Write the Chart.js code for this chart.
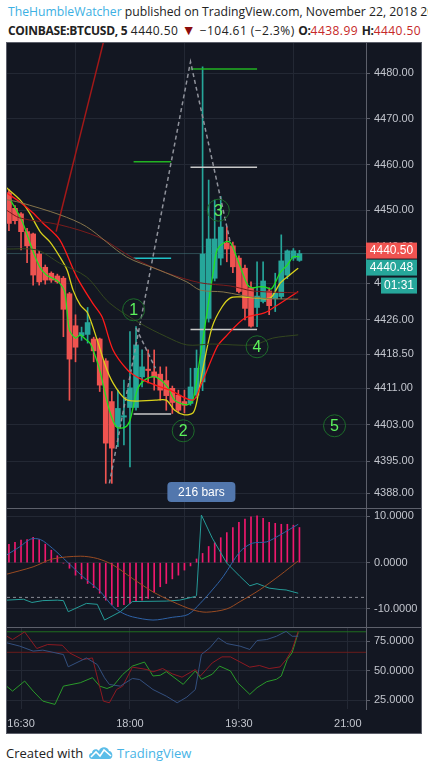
<!DOCTYPE html>
<html>
<head>
<meta charset="utf-8">
<script src="https://cdn.jsdelivr.net/npm/chart.js@4.4.0/dist/chart.umd.min.js"></script>
<style>
  body { margin: 0; width: 428px; height: 771px; background: #fff; position: relative; overflow: hidden; font-family: "Open Sans", sans-serif; }
  .hdr { position: absolute; left: 8px; white-space: nowrap; color: #222; }
  #h1 { top: 3px; font-size: 12.2px; }
  #h2 { top: 22px; font-size: 12px; letter-spacing: 0.45px; }
  #h2 b { letter-spacing: -0.3px; }
  .user { color: #3cb0e3; }
  .red { color: #c62828; }
  .tri { color: #8b0c0c; font-size: 14px; line-height: 12px; }
  #frame { position: absolute; left: 6px; top: 42px; width: 414px; height: 690px; background: #131722; border: 1px solid #5d606b; }
  .pane { position: absolute; left: 7px; width: 414px; }
  .sep { position: absolute; left: 7px; width: 414px; height: 1px; background: #5d606b; }
  #foot { position: absolute; left: 6px; top: 744px; font-size: 13px; color: #222; white-space: nowrap; }
  #foot svg { position: absolute; left: 82px; top: 1px; }
  #foot .tv { position: absolute; left: 111px; top: 0; color: #47b4e6; }
</style>
</head>
<body>
<div class="hdr" id="h1"><span class="user">TheHumbleWatcher</span> published on TradingView.com, November 22, 2018 20:23 UTC</div>
<div class="hdr" id="h2"><b>COINBASE:BTCUSD, 5</b> 4440.50 <span class="tri">&#9660;</span> &minus;104.61 (&minus;2.3%) <b>O:</b><span class="red">4438.99</span> <b>H:</b><span class="red">4440.50</span></div>
<div id="frame"></div>
<div class="pane" style="top:43px;height:465px"><canvas id="main"></canvas></div>
<div class="sep" style="top:508px"></div>
<div class="pane" style="top:509px;height:118px"><canvas id="macd"></canvas></div>
<div class="sep" style="top:627px"></div>
<div class="pane" style="top:628px;height:105px"><canvas id="rsi"></canvas></div>
<div id="foot">Created with
  <svg width="26" height="15" viewBox="0 0 26 15"><path d="M4 14 C0 14 0 8 4 8 C4 4 9 3 11 6 C12 1 20 1 21 6 C25 6 26 14 21 14 Z" fill="#5bbde8"/><polyline points="3,12 8,7 12,11 16,5 23,11" fill="none" stroke="#fff" stroke-width="1.6"/></svg>
  <span class="tv">TradingView</span></div>

<script>
// candles, 5 minute bars
const barTimes = ['16:20','16:25','16:30','16:35','16:40','16:45','16:50','16:55','17:00','17:05',
  '17:10','17:15','17:20','17:25','17:30','17:35','17:40','17:45','17:50','17:55',
  '18:00','18:05','18:10','18:15','18:20','18:25','18:30','18:35','18:40','18:45',
  '18:50','18:55','19:00','19:05','19:10','19:15','19:20','19:25','19:30','19:35',
  '19:40','19:45','19:50','19:55','20:00','20:05','20:10','20:15','20:20'];
const openVals = [4453.8,4450.4,4449.2,4445.3,4444.8,4440.4,4437.5,4436.2,4435.6,4435.1,
  4431.7,4424.7,4422.5,4422.8,4421.8,4421.8,4417.0,4408.1,4402.6,4404.7,
  4406.8,4406.8,4413.5,4415.2,4414.6,4414.1,4412.7,4411.0,4409.5,4408.1,
  4407.7,4409.5,4412.4,4426.3,4435.1,4439.5,4442.8,4442.2,4439.5,4437.3,
  4433.0,4428.7,4430.0,4432.3,4430.6,4431.1,4435.8,4439.5,4439.0];
const highVals = [4454.5,4451.0,4449.5,4446.0,4445.0,4441.0,4438.0,4436.5,4436.0,4435.5,
  4432.0,4427.1,4424.4,4428.7,4422.2,4422.0,4417.5,4410.3,4410.6,4412.8,
  4423.4,4424.5,4419.4,4419.4,4419.4,4415.7,4415.7,4411.5,4410.6,4410.6,
  4415.4,4419.4,4481.4,4456.6,4452.2,4453.0,4446.3,4443.0,4440.0,4438.0,
  4434.3,4438.7,4438.7,4433.0,4436.2,4444.6,4441.3,4441.6,4441.2];
const lowVals = [4445.5,4447.0,4441.3,4438.5,4433.6,4433.6,4433.8,4434.2,4434.0,4422.3,
  4408.4,4416.8,4421.5,4420.9,4416.8,4410.3,4390.2,4390.2,4398.2,4398.6,
  4393.8,4406.2,4411.3,4412.2,4410.6,4408.4,4406.2,4405.5,4405.6,4405.6,
  4407.3,4408.9,4410.5,4425.5,4434.5,4438.0,4438.7,4436.3,4431.9,4426.0,
  4424.4,4424.5,4429.7,4427.1,4427.8,4430.6,4435.0,4439.0,4438.8];
const closeVals = [4447.1,4447.7,4445.3,4442.2,4435.8,4434.3,4434.7,4434.7,4434.3,4428.3,
  4417.4,4420.0,4423.2,4425.4,4419.2,4411.7,4399.0,4397.9,4406.6,4405.0,
  4411.1,4420.5,4415.7,4414.9,4413.5,4410.6,4409.4,4407.9,4406.2,4407.3,
  4411.3,4415.4,4440.4,4443.7,4443.7,4446.3,4441.5,4437.6,4432.2,4428.5,
  4424.6,4431.2,4434.5,4429.1,4431.8,4438.9,4441.1,4441.1,4440.5];

// moving averages [time, price]
const maGreen = [['16:21',4452.3],['16:26',4450.1],['16:31',4447.5],['16:36',4443.9],['16:41',4440.2],
  ['16:46',4437.3],['16:51',4435.8],['16:56',4435.1],['17:01',4434.3],['17:06',4432.1],['17:10',4423.8],
  ['17:15',4422.0],['17:19',4422.7],['17:23',4421.8],['17:27',4420.9],['17:31',4418.3],['17:35',4415.0],
  ['17:43',4406.2],['17:49',4402.5],['17:56',4402.5],['18:00',4404.0],['18:06',4410.6],['18:12',4412.8],
  ['18:21',4413.5],['18:31',4411.3],['18:37',4408.4],['18:47',4407.4],['18:52',4408.4],['18:58',4417.9],
  ['19:04',4428.2],['19:09',4436.9],['19:12',4441.3],['19:19',4443.1],['19:23',4442.9],['19:28',4439.8],
  ['19:37',4433.7],['19:41',4433.0],['19:46',4433.2],['19:51',4433.2],['19:57',4432.8],['20:04',4436.3],
  ['20:10',4438.0],['20:15',4439.8],['20:20',4439.8]];
const maYellow = [['16:18',4454.9],['16:29',4452.3],['16:37',4449.4],['16:46',4445.2],['16:54',4443.0],
  ['17:02',4439.8],['17:08',4436.9],['17:13',4432.5],['17:19',4429.2],['17:25',4427.5],['17:33',4421.5],
  ['17:41',4415.0],['17:48',4411.3],['17:58',4408.4],['18:21',4408.4],['18:30',4408.4],['18:37',4406.2],
  ['18:45',4405.2],['18:52',4405.6],['18:55',4407.8],['19:00',4415.0],['19:08',4424.5],['19:16',4428.8],
  ['19:23',4430.8],['19:31',4431.0],['19:43',4430.8],['19:56',4430.8],['20:04',4434.0],['20:12',4435.8],
  ['20:19',4437.3]];
const maRed = [['16:18',4453.8],['16:29',4451.8],['16:40',4449.4],['16:48',4447.2],['17:02',4443.5],
  ['17:16',4435.4],['17:29',4429.7],['17:37',4426.6],['17:46',4419.4],['17:58',4415.0],['18:07',4413.3],
  ['18:21',4411.7],['18:33',4410.6],['18:52',4408.4],['18:58',4411.3],['19:12',4420.1],['19:19',4422.3],
  ['19:35',4426.4],['19:51',4427.5],['20:00',4428.9],['20:19',4432.2]];
const maDarkRed = [['16:18',4450.0],['16:29',4448.3],['17:02',4446.8],['17:35',4444.0],['18:02',4439.6],
  ['18:30',4436.3],['18:58',4434.1],['19:23',4433.4],['19:42',4432.3],['20:19',4431.9]];
const maTan = [['16:18',4452.3],['16:29',4451.7],['17:02',4449.0],['17:24',4446.4],['17:57',4439.8],
  ['18:24',4436.9],['18:47',4434.3],['18:58',4432.5],['19:17',4432.1],['19:45',4430.8],['20:19',4430.5]];
const maOlive = [['16:18',4441.5],['16:43',4441.3],['17:02',4438.4],['17:24',4435.4],['17:43',4429.7],
  ['18:08',4425.3],['18:30',4422.3],['18:47',4420.5],['19:08',4420.7],['19:42',4420.5],['19:58',4422.0],
  ['20:19',4422.7]];

// drawings on the price pane
const trendLine = [['16:59',4445.3],['17:43',4492.0]];
const waveDashed = [['17:43',4390.2],['18:50',4482.5],['19:23',4442.8]];
const waveDashed2 = [['18:05',4424.2],['18:21',4415.4]];
const leftTargets = [4460.6, 4439.5, 4405.4];
const rightTargets = [4480.9, 4459.4, 4423.9];
const targetColors = ['#22b322', '#1fc3c8', '#c8c8c8'];
const rightColors = ['#22b322', '#c8c8c8', '#c8c8c8'];
const waveLabels = ['1','2','3','4','5'];
const waveTimes = ['18:03','18:44','19:13','19:45','20:49'];
const wavePrices = [4428.2, 4401.7, 4450.0, 4420.1, 4402.8];
const lastPrice = 4440.5;

// MACD pane
const macdHist = [3.96,4.4,4.9,5.0,5.5,5.0,4.0,2.7,1.5,-0.1,
  -1.2,-2.7,-3.5,-4.5,-5.4,-6.6,-8.1,-9.1,-9.5,-9.1,
  -8.8,-8.4,-8.1,-7.7,-6.4,-5.2,-4.5,-3.5,-2.7,-1.6,
  -0.7,0.8,2.0,3.5,4.3,5.4,6.5,7.6,8.7,9.4,
  9.9,10.1,9.6,8.7,8.5,8.3,8.3,8.1,7.6];
const macdBlue = [['16:18',1.65],['16:29',3.45],['16:38',5.1],['16:46',5.0],['16:56',3.1],['17:08',0.2],
  ['17:21',-3.0],['17:35',-6.1],['17:46',-9.5],['17:54',-10.9],['18:02',-11.7],['18:19',-12.4],
  ['18:35',-11.8],['18:48',-11.2],['18:58',-8.8],['19:08',-5.9],['19:17',-3.0],['19:31',2.4],
  ['19:41',4.2],['19:53',4.5],['20:04',6.0],['20:19',8.3]];
const macdBrown = [['16:18',-2.5],['16:40',-0.9],['16:56',0.8],['17:19',1.4],['17:33',0.9],['17:46',-0.5],
  ['18:02',-3.4],['18:19',-6.3],['18:35',-8.4],['18:52',-10.2],['19:03',-10.7],['19:20',-10.0],
  ['19:31',-8.4],['19:47',-5.9],['20:04',-2.7],['20:19',0.4]];
const macdTeal = [['16:18',-8.1],['16:32',-7.9],['16:39',-8.6],['16:48',-8.2],['17:00',-8.1],['17:05',-8.2],
  ['17:09',-10.6],['17:24',-8.8],['17:33',-9.0],['17:39',-12.4],['17:52',-10.6],['18:02',-8.4],
  ['18:30',-8.3],['18:41',-8.1],['18:54',-7.3],['18:55',-7.1],['18:59',10.3],['19:08',5.3],
  ['19:20',-0.1],['19:31',-3.0],['19:39',-5.0],['19:45',-4.5],['19:55',-5.5],['20:04',-5.8],
  ['20:09',-5.9],['20:19',-6.6]];
const macdDashLevel = -7.5;

// oscillator pane
const oscRed = [['16:18',79.4],['16:23',76.4],['16:33',82.9],['16:43',68.8],['16:52',72.2],['17:04',71.6],
  ['17:10',65.1],['17:21',59.4],['17:29',60.8],['17:38',24.2],['17:43',22.8],['17:49',34.1],['17:54',36.9],
  ['18:02',53.0],['18:14',51.0],['18:19',49.0],['18:27',51.8],['18:35',47.3],['18:43',44.5],['18:54',51.0],
  ['18:58',45.3],['19:08',56.6],['19:16',61.7],['19:23',61.7],['19:39',53.0],['19:47',54.4],['19:55',51.8],
  ['20:04',53.2],['20:09',59.4],['20:14',67.9],['20:19',83.4]];
const oscBlue = [['16:18',73.7],['16:29',70.8],['16:40',66.6],['16:48',67.4],['17:05',63.7],['17:09',53.3],
  ['17:24',60.8],['17:33',55.2],['17:39',43.9],['17:43',38.3],['17:52',36.9],['18:02',43.4],['18:08',42.5],
  ['18:19',34.0],['18:30',28.4],['18:39',22.8],['18:47',27.6],['18:54',34.0],['18:59',63.7],['19:06',69.4],
  ['19:13',77.8],['19:20',73.0],['19:31',70.8],['19:39',68.0],['19:45',75.6],['19:53',76.4],['20:01',79.2],
  ['20:09',83.4],['20:14',79.2],['20:19',79.2]];
const oscGreen = [['16:18',36.9],['16:23',32.7],['16:33',41.2],['16:40',32.7],['16:48',24.2],['16:58',21.4],
  ['17:05',36.9],['17:19',39.8],['17:29',44.1],['17:35',36.9],['17:41',34.9],['17:46',36.9],['17:54',46.8],
  ['18:02',53.9],['18:12',57.3],['18:19',45.5],['18:25',46.1],['18:30',49.2],['18:44',38.4],['18:54',49.8],
  ['18:59',42.7],['19:08',47.0],['19:14',53.9],['19:23',49.8],['19:29',39.8],['19:39',29.9],['19:45',35.6],
  ['19:53',40.7],['20:01',42.7],['20:05',45.5],['20:10',59.6],['20:14',65.3],['20:19',82.3]];
const oscUpper = 83.0;
const oscLower = 65.6;

// axes
const priceTicks = [4388, 4395, 4403, 4411, 4418.5, 4426, 4434, 4442, 4450, 4460, 4470, 4480];
const macdTicks = [-10, 0, 10];
const oscTicks = [25, 50, 75];
const timeTicks = ['16:30', '18:00', '19:30', '21:00'];

const gridColor = '#232834';
const lineGrey = '#5d606b';
const textColor = '#c3c6ce';
const axisFont = '"Liberation Sans", Arial, sans-serif';
const xMin = 978.4, xMax = 1275;

function toMin(s) {
    const p = s.split(':');
    return Number(p[0]) * 60 + Number(p[1]);
}
function fmtTime(v) {
    const h = Math.floor(v / 60), m = Math.round(v % 60);
    return h + ':' + String(m).padStart(2, '0');
}
function pts(arr) {
    return arr.map(p => ({ x: toMin(p[0]), y: p[1] }));
}
function lineDs(arr, color, width, extra) {
    return Object.assign({
        type: 'line', data: pts(arr), borderColor: color, borderWidth: width || 1,
        pointRadius: 0, tension: 0.3, fill: false, order: 1
    }, extra || {});
}
function flatLine(level, t0, t1, color, extra) {
    return Object.assign({
        type: 'line', data: [{ x: t0, y: level }, { x: t1, y: level }], borderColor: color,
        borderWidth: 1, pointRadius: 0, tension: 0, order: 2
    }, extra || {});
}

function xScale(showLabels) {
    return {
        type: 'linear', min: xMin, max: xMax, offset: false,
        afterBuildTicks: s => { s.ticks = timeTicks.map(t => ({ value: toMin(t) })); },
        afterFit: s => { s.height = showLabels ? 24 : 0; s.paddingLeft = 0; s.paddingRight = 0; },
        grid: { color: gridColor, drawTicks: false },
        border: { display: false },
        ticks: { display: showLabels, color: textColor, font: { size: 11, family: axisFont }, padding: 8, maxRotation: 0, autoSkip: false, callback: v => fmtTime(v) }
    };
}
function yScale(min, max, ticks, decimals) {
    return {
        type: 'linear', position: 'right', min: min, max: max,
        afterBuildTicks: s => { s.ticks = ticks.map(v => ({ value: v })); },
        afterFit: s => { s.width = 55; s.paddingTop = 0; s.paddingBottom = 0; },
        grid: { color: gridColor, tickColor: lineGrey, tickLength: 4 },
        border: { color: lineGrey },
        ticks: { color: textColor, font: { size: 11, family: axisFont }, padding: 4, autoSkip: false, callback: v => v.toFixed(decimals) }
    };
}
const baseOptions = {
    responsive: true, maintainAspectRatio: false, animation: false,
    layout: { padding: 0 },
    plugins: { legend: { display: false }, tooltip: { enabled: false } }
};

// overlay drawings: wave circles, bar count label, price labels
const overlayPlugin = {
    id: 'overlay',
    afterDraw(chart) {
        const ctx = chart.ctx;
        const x = chart.scales.x, y = chart.scales.y;
        ctx.save();
        waveLabels.forEach((lab, i) => {
            const px = x.getPixelForValue(toMin(waveTimes[i]));
            const py = y.getPixelForValue(wavePrices[i]);
            ctx.beginPath();
            ctx.arc(px, py, 11, 0, Math.PI * 2);
            ctx.strokeStyle = '#1d6b2a';
            ctx.lineWidth = 1;
            ctx.stroke();
            ctx.fillStyle = '#5cf25c';
            ctx.font = '16px ' + axisFont;
            ctx.textAlign = 'center';
            ctx.textBaseline = 'middle';
            ctx.fillText(lab, px, py + 1);
        });

        // bar count label
        const bx = x.getPixelForValue(toMin('18:59'));
        const by = y.getPixelForValue(4388.3);
        ctx.fillStyle = '#5277ad';
        ctx.beginPath();
        ctx.roundRect(bx - 34, by - 10, 68, 20, 4);
        ctx.fill();
        ctx.fillStyle = '#ffffff';
        ctx.font = '12px ' + axisFont;
        ctx.fillText('216 bars', bx, by + 1);

        // price labels on the axis
        const ly = y.getPixelForValue(lastPrice) - 3;
        const left = y.left;
        ctx.font = '12px ' + axisFont;
        ctx.fillStyle = '#ef5350';
        ctx.fillRect(left, ly - 8, 51, 16);
        ctx.fillStyle = '#26a69a';
        ctx.fillRect(left, ly + 9, 51, 16);
        ctx.fillRect(left + 15, ly + 27, 36, 16);
        ctx.fillStyle = '#ffffff';
        ctx.fillText('4440.50', left + 25.5, ly + 0.5);
        ctx.fillText('4440.48', left + 25.5, ly + 17.5);
        ctx.fillText('01:31', left + 33, ly + 35.5);
        ctx.restore();
    }
};

const candleColors = closeVals.map((c, i) => c >= openVals[i] ? '#26a69a' : '#ef5350');

new Chart(document.getElementById('main'), {
    type: 'bar',
    data: {
        datasets: [
            { type: 'bar', data: barTimes.map((t, i) => ({ x: toMin(t), y: [lowVals[i], highVals[i]] })),
              backgroundColor: candleColors, barThickness: 1, grouped: false, order: 20 },
            { type: 'bar', data: barTimes.map((t, i) => ({ x: toMin(t), y: [openVals[i], closeVals[i]] })),
              backgroundColor: candleColors, barThickness: 5, minBarLength: 1, grouped: false, order: 19 },
            flatLine(lastPrice, xMin, xMax, 'rgba(70,120,125,0.55)', { order: 25 }),
            lineDs(maOlive, '#34471f', 1),
            lineDs(maTan, '#85744a', 1),
            lineDs(maDarkRed, '#7a1c1c', 1),
            lineDs(maRed, '#ff1a1a', 1.3),
            lineDs(maYellow, '#d9d21c', 1.3),
            lineDs(maGreen, '#22e022', 1.3),
            lineDs(trendLine, '#a31818', 1.5, { tension: 0 }),
            lineDs(waveDashed, '#8f929b', 1.5, { tension: 0, borderDash: [4, 3] }),
            lineDs(waveDashed2, '#8f929b', 1.5, { tension: 0, borderDash: [4, 3] }),
            ...leftTargets.map((v, i) => flatLine(v, toMin('18:03'), toMin('18:34'), targetColors[i], { borderWidth: 1.5 })),
            ...rightTargets.map((v, i) => flatLine(v, toMin('18:50'), toMin('19:45'), rightColors[i], { borderWidth: 1.5 }))
        ]
    },
    options: Object.assign({}, baseOptions, {
        scales: { x: xScale(false), y: yScale(4384.8, 4486.6, priceTicks, 2) }
    }),
    plugins: [overlayPlugin]
});

new Chart(document.getElementById('macd'), {
    type: 'bar',
    data: {
        datasets: [
            { type: 'bar', data: barTimes.map((t, i) => ({ x: toMin(t), y: macdHist[i] })),
              backgroundColor: '#f0186d', barThickness: 1, grouped: false, order: 10 },
            flatLine(macdDashLevel, xMin, xMax, '#8a8d96', { borderDash: [3, 3] }),
            lineDs(macdBrown, '#9a4b22', 1),
            lineDs(macdBlue, '#2f62a6', 1),
            lineDs(macdTeal, '#259c98', 1, { tension: 0 })
        ]
    },
    options: Object.assign({}, baseOptions, {
        scales: { x: xScale(false), y: yScale(-13.9, 11.6, macdTicks, 4) }
    })
});

new Chart(document.getElementById('rsi'), {
    type: 'line',
    data: {
        datasets: [
            flatLine(oscUpper, xMin, xMax, '#1f6e1f'),
            flatLine(oscLower, xMin, xMax, '#6a1b1b'),
            lineDs(oscBlue, '#34507f', 1, { tension: 0 }),
            lineDs(oscRed, '#8e1a22', 1, { tension: 0 }),
            lineDs(oscGreen, '#2a9a2a', 1, { tension: 0 })
        ]
    },
    options: Object.assign({}, baseOptions, {
        scales: { x: xScale(true), y: yScale(17.5, 86.2, oscTicks, 4) }
    })
});
</script>
</body>
</html>
